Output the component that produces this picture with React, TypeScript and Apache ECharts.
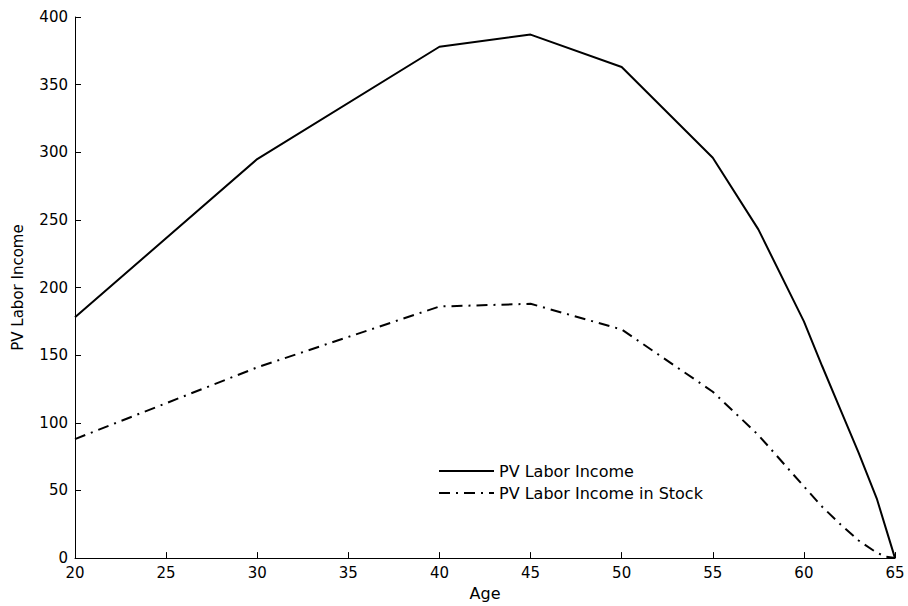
import React, { useEffect, useRef } from "react";
import * as echarts from "echarts";

const ages = [20, 30, 40, 45, 50, 55, 57.5, 60, 61, 62, 63, 64, 64.5, 65];
const pvLaborIncome = [178, 295, 378, 387, 363, 296, 243, 175, 142, 110, 78, 44, 22, 0];
const pvLaborIncomeStock = [88, 141, 186, 188, 169, 123, 91, 53, 38, 25, 13, 4, 1, 0];
const seriesNames = ["PV Labor Income", "PV Labor Income in Stock"];

export default function App() {
  const ref = useRef<HTMLDivElement>(null);
  useEffect(() => {
    if (!ref.current) return;
    const chart = echarts.init(ref.current, undefined, { renderer: "svg" });
    const font = "DejaVu Sans, Arial, Helvetica, sans-serif";
    chart.setOption({
      animation: false,
      backgroundColor: "#ffffff",
      grid: { left: 75, right: 13, top: 17, height: 543, containLabel: false },
      legend: {
        left: 433,
        top: 458,
        orient: "vertical",
        itemWidth: 55,
        itemHeight: 14,
        itemGap: 6,
        itemStyle: { opacity: 0, borderWidth: 0 },
        textStyle: { fontFamily: font, fontSize: 16, color: "#000" },
        data: seriesNames,
      },
      xAxis: {
        type: "value",
        min: 20,
        max: 65,
        interval: 5,
        name: "Age",
        nameLocation: "middle",
        nameGap: 25,
        nameTextStyle: { fontFamily: font, fontSize: 16, color: "#000" },
        axisLine: { show: true, lineStyle: { color: "#000", width: 1 } },
        axisTick: { show: true, inside: true, length: 6, lineStyle: { color: "#000" } },
        axisLabel: { fontFamily: font, fontSize: 15, color: "#000", margin: 7 },
        splitLine: { show: false },
      },
      yAxis: {
        type: "value",
        min: 0,
        max: 400,
        interval: 50,
        name: "PV Labor Income",
        nameLocation: "middle",
        nameGap: 50,
        nameTextStyle: { fontFamily: font, fontSize: 15, color: "#000" },
        axisLine: { show: true, lineStyle: { color: "#000", width: 1 } },
        axisTick: { show: true, inside: true, length: 6, lineStyle: { color: "#000" } },
        axisLabel: { fontFamily: font, fontSize: 15, color: "#000", margin: 7 },
        splitLine: { show: false },
      },
      series: [
        {
          name: seriesNames[0],
          type: "line",
          data: ages.map((a, i) => [a, pvLaborIncome[i]]),
          symbol: "none",
          lineStyle: { color: "#000", width: 2, type: "solid" },
          itemStyle: { color: "#000" },
        },
        {
          name: seriesNames[1],
          type: "line",
          data: ages.map((a, i) => [a, pvLaborIncomeStock[i]]),
          symbol: "none",
          lineStyle: { color: "#000", width: 2, type: [11, 6, 2, 6] },
          itemStyle: { color: "#000" },
        },
      ],
    });
    return () => chart.dispose();
  }, []);
  return (
    <div
      ref={ref}
      style={{ position: "fixed", left: 0, top: 0, width: 908, height: 606, background: "#fff" }}
    />
  );
}
